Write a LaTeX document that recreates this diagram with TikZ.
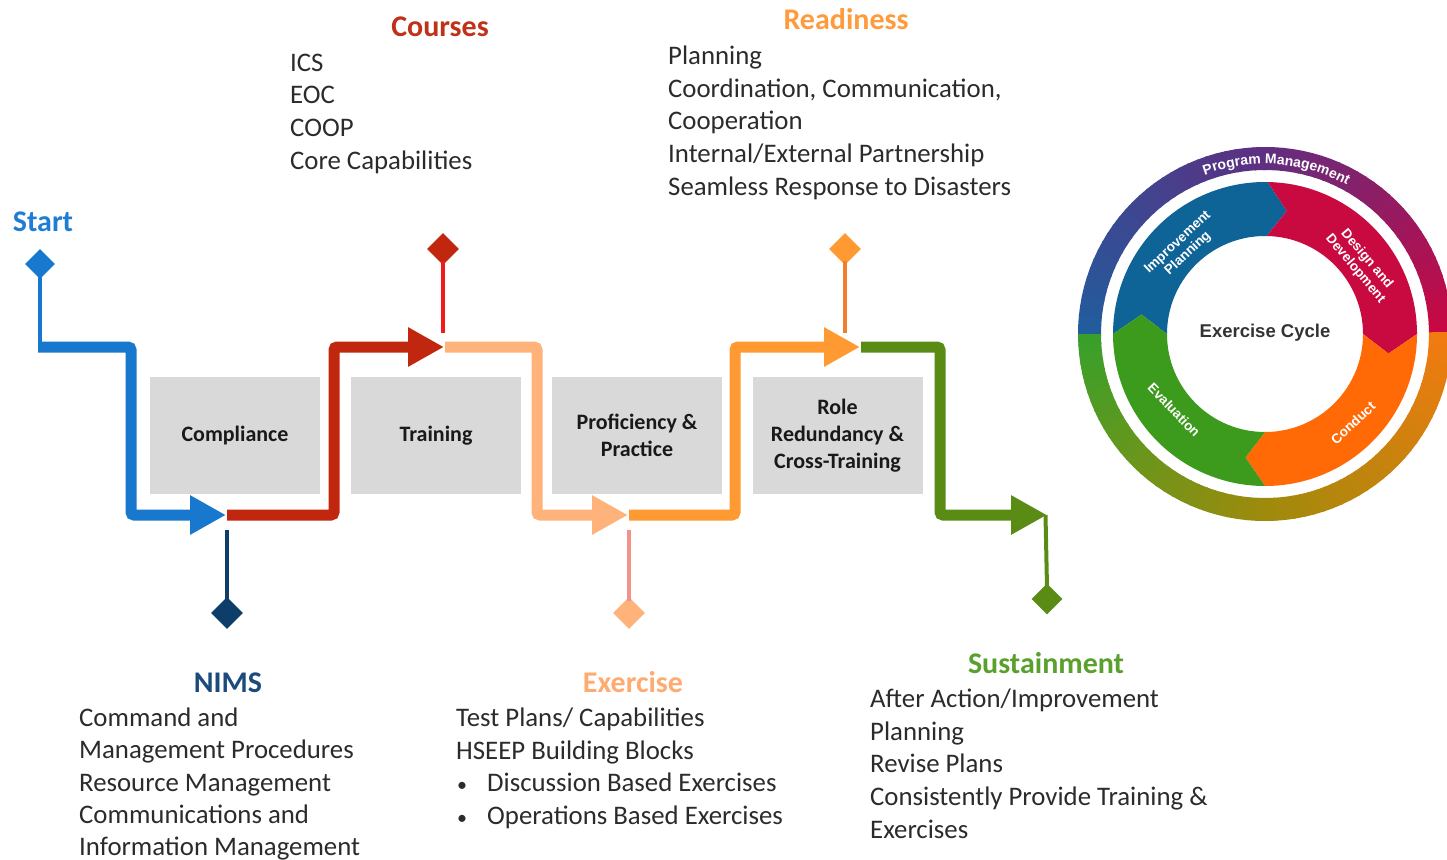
\documentclass[tikz,border=0pt]{standalone}
\usepackage{fontspec}
\setmainfont{Carlito}
\newfontfamily\arialf{Liberation Sans}
\usetikzlibrary{arrows.meta,shapes.geometric,decorations.text}

\definecolor{cBlue}{HTML}{1878CE}
\definecolor{cStartTxt}{HTML}{1F7DD3}
\definecolor{cRed}{HTML}{C1270F}
\definecolor{cRedStem}{HTML}{F21B1B}
\definecolor{cCoursesTxt}{HTML}{C0311A}
\definecolor{cPeach}{HTML}{FFB27A}
\definecolor{cPeachStem}{HTML}{F2938A}
\definecolor{cExTxt}{HTML}{FFAA70}
\definecolor{cOrange}{HTML}{FF9A33}
\definecolor{cOrangeStem}{HTML}{F27D2A}
\definecolor{cReadyTxt}{HTML}{FF9B3D}
\definecolor{cGreen}{HTML}{5A8C15}
\definecolor{cSustTxt}{HTML}{5AA02C}
\definecolor{cNavy}{HTML}{0D3D69}
\definecolor{cNimsTxt}{HTML}{1B4B7C}
\definecolor{cBox}{HTML}{D9D9D9}
\definecolor{cText}{HTML}{2B2B2B}
\definecolor{cyBlue}{HTML}{0E6397}
\definecolor{cyRed}{HTML}{C80A40}
\definecolor{cyOrange}{HTML}{FF6A06}
\definecolor{cyGreen}{HTML}{3C9B1C}
\definecolor{cyText}{HTML}{333333}
\definecolor{rgBlue}{HTML}{1F5E9E}
\definecolor{rgPurple}{HTML}{5E2F82}
\definecolor{rgCrimson}{HTML}{C80842}
\definecolor{rgGreen}{HTML}{38A02A}
\definecolor{rgOlive}{HTML}{A08A0C}
\definecolor{rgOrange}{HTML}{F47A10}

\begin{document}
\begin{tikzpicture}[x=1pt,y=1pt,
  flow/.style={line width=11pt, rounded corners=3pt, -{Triangle[length=36pt,width=37pt]}},
  stem/.style={line width=4pt},
  marker/.style={diamond, minimum width=32pt, minimum height=32pt, inner sep=0pt, draw=none},
  stagebox/.style={rectangle, fill=cBox, minimum width=170pt, minimum height=117pt, inner sep=0pt, align=center, font=\fontsize{22}{27}\selectfont\bfseries, text=black!90},
  head/.style={anchor=base, inner sep=0pt, font=\fontsize{30}{36}\selectfont\bfseries},
  bodyline/.style={anchor=base west, inner sep=0pt, font=\fontsize{26.8}{33}\selectfont, text=cText},
  bulletmark/.style={anchor=base, inner sep=0pt, font=\fontsize{20}{24}\selectfont, text=cText},
  cylabel/.style={align=center, inner sep=0pt, text=white, font=\arialf\bfseries\fontsize{13.5}{15}\selectfont}
]
\useasboundingbox (0,0) rectangle (1447,-859);

% stage boxes
\node[stagebox] (compliance) at (235,-435.5) {Compliance};
\node[stagebox] (training) at (436,-435.5) {Training};
\node[stagebox] (proficiency) at (637,-435.5) {Proficiency \&\\Practice};
\node[stagebox] (role) at (837.5,-435.5) {Role\\Redundancy \&\\Cross-Training};

% junctions
\coordinate (bStart) at (38,-347);
\coordinate (j1) at (226,-515);
\coordinate (j1b) at (227,-515);
\coordinate (j2) at (444,-347);
\coordinate (j2b) at (445,-347);
\coordinate (j3) at (628,-515);
\coordinate (j3b) at (629,-515);
\coordinate (j4) at (860,-347);
\coordinate (j4b) at (861,-347);
\coordinate (j5) at (1047,-515);

% diamonds
\node[marker, fill=cBlue, minimum width=30pt, minimum height=30pt] (dStart) at (40,-264) {};
\node[marker, fill=cRed] (dCourses) at (443,-249) {};
\node[marker, fill=cNavy] (dNims) at (227,-613) {};
\node[marker, fill=cPeach] (dExercise) at (629,-613) {};
\node[marker, fill=cOrange] (dReady) at (845,-249) {};
\node[marker, fill=cGreen, minimum width=31pt, minimum height=31pt] (dSust) at (1047,-599) {};

% stem ends
\coordinate (eStart) at (40,-347);
\coordinate (eCourses) at (443,-333);
\coordinate (eNims) at (227,-530);
\coordinate (eExercise) at (629,-530);
\coordinate (eReady) at (845,-333);
\coordinate (eSust) at (1045.5,-515);

% stems
\draw[stem, cBlue] ([yshift=4pt]dStart.south) -- (eStart);
\draw[stem, cRedStem] ([yshift=4pt]dCourses.south) -- (eCourses);
\draw[stem, cNavy] ([yshift=-4pt]dNims.north) -- (eNims);
\draw[stem, cPeachStem] ([yshift=-4pt]dExercise.north) -- (eExercise);
\draw[stem, cOrangeStem] ([yshift=4pt]dReady.south) -- (eReady);
\draw[stem, cGreen] (eSust) -- ([yshift=-4pt]dSust.north);

% flows
\draw[flow, cBlue] (bStart) -- (131,-347) -- (131,-515) -- (j1);
\draw[flow, cRed] (j1b) -- (334,-515) -- (334,-347) -- (j2);
\draw[flow, cPeach] (j2b) -- (537,-347) -- (537,-515) -- (j3);
\draw[flow, cOrange] (j3b) -- (735,-515) -- (735,-347) -- (j4);
\draw[flow, cGreen] (j4b) -- (940,-347) -- (940,-515) -- (j5);

% headings
\node[head, text=cStartTxt] (tStart) at (43,-231) {Start};
\node[head, text=cCoursesTxt] (tCourses) at (440,-37) {Courses};
\node[head, text=cReadyTxt] (tReady) at (846,-30) {Readiness};
\node[head, text=cNimsTxt] (tNims) at (228,-692) {NIMS};
\node[head, text=cExTxt] (tExercise) at (633,-692) {Exercise};
\node[head, text=cSustTxt] (tSust) at (1046,-673) {Sustainment};

% lists
\foreach \t [count=\i from 0] in {ICS,EOC,COOP,Core Capabilities}
  \node[bodyline] (course\i) at (290,{-71-32.7*\i}) {\t};
\foreach \t [count=\i from 0] in {Planning,{Coordination, Communication,},Cooperation,Internal/External Partnership,Seamless Response to Disasters}
  \node[bodyline] (ready\i) at (668,{-64.5-32.7*\i}) {\t};
\foreach \t [count=\i from 0] in {Command and,Management Procedures,Resource Management,Communications and,Information Management}
  \node[bodyline] (nims\i) at (79,{-726.5-32.3*\i}) {\t};
\node[bodyline] (ex0) at (456,-726.5) {Test Plans/ Capabilities};
\node[bodyline] (ex1) at (456,-759) {HSEEP Building Blocks};
\node[bulletmark] (exb2) at (462,-791.5) {•};
\node[bodyline] (ex2) at (487,-791.5) {Discussion Based Exercises};
\node[bulletmark] (exb3) at (462,-824) {•};
\node[bodyline] (ex3) at (487,-824) {Operations Based Exercises};
\foreach \t [count=\i from 0] in {After Action/Improvement,Planning,Revise Plans,Consistently Provide Training \&,Exercises}
  \node[bodyline] (sust\i) at (870,{-707.5-32.7*\i}) {\t};

% exercise cycle
\begin{scope}[shift={(1265,-334)}]
  \foreach \a in {0,3,...,177}{
    \ifnum\a<90
      \pgfmathsetmacro\p{\a/90*100}\colorlet{tmpc}{rgPurple!\p!rgCrimson}
    \else
      \pgfmathsetmacro\p{(\a-90)/90*100}\colorlet{tmpc}{rgBlue!\p!rgPurple}
    \fi
    \fill[tmpc] (\a:164) arc[start angle=\a,end angle=\a+3.6,radius=164] -- (\a+3.6:187) arc[start angle=\a+3.6,end angle=\a,radius=187] -- cycle;
  }
  \foreach \a in {180,183,...,357}{
    \ifnum\a<270
      \pgfmathsetmacro\p{(\a-180)/90*100}\colorlet{tmpc}{rgOlive!\p!rgGreen}
    \else
      \pgfmathsetmacro\p{(\a-270)/90*100}\colorlet{tmpc}{rgOrange!\p!rgOlive}
    \fi
    \fill[tmpc] (\a:164) arc[start angle=\a,end angle=\a+3.6,radius=164] -- (\a+3.6:187) arc[start angle=\a+3.6,end angle=\a,radius=187] -- cycle;
  }
  \path[decorate, decoration={text along path, text align=center,
     text={|\arialf\bfseries\fontsize{14}{14}\selectfont\color{white}|Program Management}}]
     (140:170) arc[start angle=140, end angle=32, radius=170];

  \fill[cyBlue] (180:152) arc[start angle=180,end angle=89,radius=152] -- (80:125) -- (89:98) arc[start angle=89,end angle=180,radius=98] -- (171:125) -- cycle;
  \fill[cyRed] (89:152) arc[start angle=89,end angle=0,radius=152] -- (-9:125) -- (0:98) arc[start angle=0,end angle=89,radius=98] -- (80:125) -- cycle;
  \fill[cyOrange] (0:152) arc[start angle=0,end angle=-90,radius=152] -- (-99:125) -- (-90:98) arc[start angle=-90,end angle=0,radius=98] -- (-9:125) -- cycle;
  \fill[cyGreen] (-90:152) arc[start angle=-90,end angle=-180,radius=152] -- (-189:125) -- (-180:98) arc[start angle=-180,end angle=-90,radius=98] -- (-99:125) -- cycle;

  \node[font=\arialf\bfseries\fontsize{18.5}{20}\selectfont, text=cyText] (cycle) at (0,1) {Exercise Cycle};
  \node[cylabel, rotate=43] (lImp) at (-82,86) {Improvement\\Planning};
  \node[cylabel, rotate=-50] (lDes) at (96,70) {Design and\\Development};
  \node[cylabel, rotate=43] (lCon) at (88,-89) {Conduct};
  \node[cylabel, rotate=-46] (lEva) at (-91,-76) {Evaluation};
\end{scope}
\end{tikzpicture}
\end{document}
